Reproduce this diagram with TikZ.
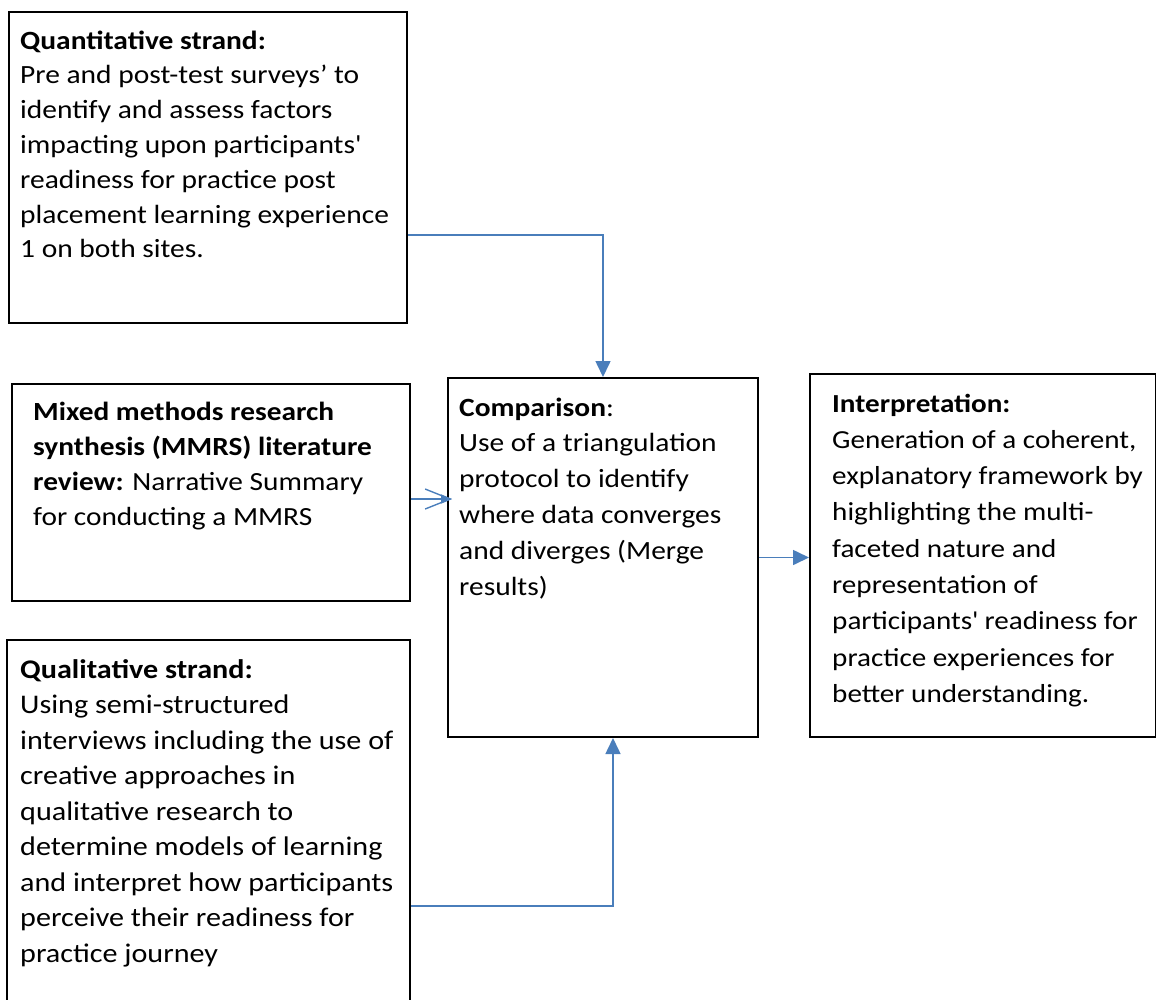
\documentclass[tikz,border=0pt]{standalone}
\usepackage{fontspec}
\setmainfont{Carlito}[FakeStretch=1.12]
\usetikzlibrary{arrows.meta}
\definecolor{lineblue}{RGB}{74,126,187}
\tikzset{
  box/.style={draw=black, line width=2pt, rectangle, anchor=north west, inner sep=0pt},
  txt/.style={anchor=base west, inner sep=0pt, align=left, text=black},
  conn/.style={draw=lineblue, line width=1.6pt, -{Triangle[length=16pt,width=15pt]}},
  thin conn/.style={draw=lineblue, line width=1.4pt},
}
\begin{document}
\begin{tikzpicture}[x=1pt,y=-1pt]
\useasboundingbox (0,0) rectangle (1156,999);
% boxes
\node[box, minimum width=398pt, minimum height=311pt] (quant) at (8,11) {};
\node[box, minimum width=398pt, minimum height=217pt] (mmrs) at (11,383) {};
\node[box, minimum width=310pt, minimum height=359pt] (comp) at (447,377) {};
\node[box, minimum width=346pt, minimum height=363pt] (interp) at (809,373) {};
\node[box, minimum width=403pt, minimum height=366pt] (qual) at (6,639) {};
% texts (anchored at the baseline of the last line)
\node[txt, font=\fontsize{26.3}{34.8}\selectfont] (quantT) at (20,257.8) {\textbf{Quantitative strand:}\\
Pre and post-test surveys’ to\\
identify and assess factors\\
impacting upon participants\textquotesingle\\
readiness for practice post\\
placement learning experience\\
1 on both sites.};
\node[txt, font=\fontsize{26.2}{35}\selectfont] (mmrsT) at (33,525) {\textbf{Mixed methods research}\\
\textbf{synthesis (MMRS) literature}\\
\textbf{review:} Narrative Summary\\
for conducting a MMRS};
\node[txt, font=\fontsize{26.3}{35.8}\selectfont] (compT) at (459,595) {\textbf{Comparison}:\\
Use of a triangulation\\
protocol to identify\\
where data converges\\
and diverges (Merge\\
results)};
\node[txt, font=\fontsize{26}{36.3}\selectfont] (interpT) at (832,702.4) {\textbf{Interpretation:}\\
Generation of a coherent,\\
explanatory framework by\\
highlighting the multi-\\
faceted nature and\\
representation of\\
participants\textquotesingle{} readiness for\\
practice experiences for\\
better understanding.};
\node[txt, font=\fontsize{26.9}{35.5}\selectfont] (qualT) at (20,962) {\textbf{Qualitative strand:}\\
Using semi-structured\\
interviews including the use of\\
creative approaches in\\
qualitative research to\\
determine models of learning\\
and interpret how participants\\
perceive their readiness for\\
practice journey};
% connectors
\draw[conn] ([yshift=-67.5pt]quant.east) -| (comp.north);
\draw[conn] ([yshift=-83pt]qual.east) -| ([xshift=10pt]comp.south);
\draw[conn] (comp.east) -- (comp.east -| interp.west);
\draw[thin conn, -{Straight Barb[length=25pt,width=20pt]}, shorten >=-5pt]
  ([yshift=-6.5pt]mmrs.east) -- ([yshift=-6.5pt]mmrs.east -| comp.west);
\draw[thin conn, -{Triangle[length=11pt,width=9pt]}, shorten >=-5pt]
  ([yshift=-6.5pt]mmrs.east) -- ([yshift=-6.5pt]mmrs.east -| comp.west);
\end{tikzpicture}
\end{document}
